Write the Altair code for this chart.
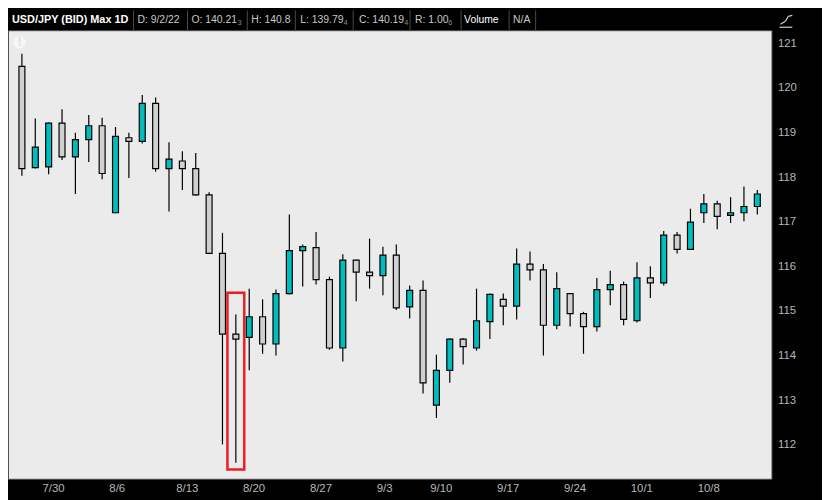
import altair as alt
import pandas as pd

# ---------------- data ----------------
opens = [120.48, 118.21, 118.23, 119.21, 118.45, 118.84, 119.15, 117.20, 118.88, 118.80,
         119.65, 118.19, 118.36, 118.19, 117.60, 116.29, 114.48, 114.41, 114.87, 114.26,
         115.39, 116.35, 116.42, 115.70, 114.17, 116.14, 115.87, 115.79, 116.25, 115.09,
         115.46, 112.89, 113.67, 114.37, 114.17, 114.76, 115.26, 115.11, 116.05, 115.92,
         114.68, 115.39, 114.94, 114.65, 115.48, 115.59, 114.78, 115.74, 115.63, 116.70,
         116.38, 117.20, 117.40, 117.14, 117.20, 117.34]
highs = [120.76, 119.31, 119.22, 119.52, 118.99, 119.39, 119.33, 119.12, 118.99, 119.84,
         119.78, 118.78, 118.58, 118.54, 117.66, 116.75, 114.92, 115.50, 115.26, 115.48,
         117.16, 116.49, 116.77, 115.77, 116.27, 116.15, 116.62, 116.44, 116.49, 115.57,
         115.68, 114.02, 114.39, 114.39, 115.50, 115.39, 115.39, 116.40, 116.33, 116.05,
         115.87, 115.40, 114.98, 115.74, 115.90, 115.66, 116.09, 116.00, 116.79, 116.77,
         117.29, 117.62, 117.47, 117.55, 117.79, 117.71]
lows = [118.03, 118.19, 118.06, 118.38, 117.62, 118.34, 117.95, 117.19, 117.98, 118.75,
        118.12, 117.23, 117.71, 117.58, 116.28, 112.01, 111.60, 113.67, 114.04, 114.00,
        115.37, 115.55, 115.59, 114.13, 113.87, 115.22, 115.50, 115.35, 115.02, 114.83,
        113.15, 112.60, 113.39, 113.80, 114.11, 114.37, 114.68, 114.81, 115.68, 114.00,
        114.59, 114.65, 114.04, 114.54, 115.13, 114.68, 114.74, 115.29, 115.57, 116.29,
        116.37, 116.97, 116.83, 116.97, 117.01, 117.16]
closes = [118.19, 118.67, 119.21, 118.45, 118.84, 119.15, 118.08, 118.91, 118.80, 119.65,
          118.19, 118.40, 118.19, 117.60, 116.29, 114.48, 114.37, 114.87, 114.26, 115.39,
          116.35, 116.44, 115.70, 114.17, 116.14, 115.87, 115.79, 116.25, 115.07, 115.46,
          113.39, 113.67, 114.37, 114.20, 114.78, 115.37, 115.11, 116.05, 115.92, 114.68,
          115.50, 114.94, 114.65, 115.48, 115.59, 114.81, 115.74, 115.63, 116.70, 116.38,
          116.99, 117.40, 117.12, 117.20, 117.34, 117.62]

week_labels = ["7/30", "8/6", "8/13", "8/20", "8/27", "9/3", "9/10", "9/17", "9/24", "10/1", "10/8"]
week_first_bar = [2, 7, 12, 17, 22, 27, 31, 36, 41, 46, 51]
price_ticks = [112, 113, 114, 115, 116, 117, 118, 119, 120, 121]

highlight_bar = 16
highlight_low = 111.45
highlight_high = 115.41

header_texts = ["USD/JPY (BID) Max 1D", "D: 9/2/22", "O: 140.21", "H: 140.8",
                "L: 139.79", "C: 140.19", "R: 1.00", "Volume", "N/A"]
header_subs = ["", "", "3", "", "4", "4", "6", "", ""]

# ---------------- layout / style ----------------
SX = 822 / 830.0
header_x = [4, 132, 187, 248, 298, 358, 415, 465, 515]
sub_x = [0, 0, 234, 0, 342, 404, 449, 0, 0]
divider_x = [128, 183, 244, 293, 352, 410, 462, 511, 538]
header_color = ["#ffffff", "#c8c8c8", "#c8c8c8", "#c8c8c8", "#c8c8c8",
                "#c8c8c8", "#c8c8c8", "#ffffff", "#c8c8c8"]
header_weight = ["bold", "normal", "normal", "normal", "normal",
                 "normal", "normal", "normal", "normal"]
header_size = [11, 10.5, 10.5, 10.5, 10.5, 10.5, 10.5, 10.5, 10.5]

FONT = "Liberation Sans, Arial, sans-serif"
TEAL = "#00bdbd"
GRAY = "#d0d0d0"
RED = "#ee1c24"

W, H = 771, 453

df = pd.DataFrame({"bar": list(range(len(opens))), "open": opens, "high": highs,
                   "low": lows, "close": closes})

tick_pos = [b - 0.5 for b in week_first_bar]
label_expr = ("[" + ",".join("'%s'" % l for l in week_labels) + "][indexof(["
              + ",".join(str(p) for p in tick_pos) + "], datum.value)]")

xscale = alt.Scale(domain=[-0.67, 55.69], nice=False, zero=False)
yscale = alt.Scale(domain=[111.24, 121.29], nice=False, zero=False)

xaxis = alt.Axis(orient="bottom", values=tick_pos, labelExpr=label_expr, ticks=False,
                 tickSize=0, domain=False, grid=False, labelAlign="left",
                 labelBaseline="middle", labelPadding=10, labelFlush=False,
                 labelOverlap=False, labelBound=False, labelColor="#b8b8b8",
                 labelFont=FONT, labelFontSize=11.5, title=None)
yaxis = alt.Axis(orient="right", values=price_ticks, ticks=False, tickSize=0, domain=False,
                 grid=False, labelPadding=6, labelColor="#b4b8bc", labelFont=FONT,
                 labelFontSize=11.5, labelOverlap=False, labelFlush=False, title=None)

base = alt.Chart(df)
wicks = base.mark_rule(color="black", strokeWidth=1.2).encode(
    x=alt.X("bar:Q", scale=xscale, axis=xaxis),
    y=alt.Y("low:Q", scale=yscale, axis=yaxis),
    y2="high:Q",
)
bodies = base.mark_bar(size=6, stroke="black", strokeWidth=1.2).encode(
    x="bar:Q",
    y="open:Q",
    y2="close:Q",
    fill=alt.condition("datum.close >= datum.open", alt.value(TEAL), alt.value(GRAY)),
)

hl_df = pd.DataFrame({"x1": [highlight_bar - 0.63], "x2": [highlight_bar + 0.63],
                      "y1": [highlight_low], "y2": [highlight_high]})
highlight = alt.Chart(hl_df).mark_rect(fillOpacity=0, stroke=RED, strokeWidth=2.5).encode(
    x="x1:Q", x2="x2:Q", y="y1:Q", y2="y2:Q")

one = alt.Data(values=[{}])
layers = [wicks, bodies, highlight]

# header dividers
for dx in divider_x:
    layers.append(alt.Chart(one).mark_rule(color="#4a4a4a", strokeWidth=1).encode(
        x=alt.value(dx * SX), y=alt.value(-20), y2=alt.value(0)))

# header texts
for t, hx, c, wgt, fs in zip(header_texts, header_x, header_color, header_weight, header_size):
    layers.append(alt.Chart(one).mark_text(
        align="left", baseline="middle", font=FONT, fontSize=fs, fontWeight=wgt,
        color=c).encode(x=alt.value(hx * SX), y=alt.value(-10), text=alt.value(t)))
for s, sx in zip(header_subs, sub_x):
    if s:
        layers.append(alt.Chart(one).mark_text(
            align="left", baseline="middle", font=FONT, fontSize=7.5,
            color="#8a8a8a").encode(x=alt.value(sx * SX), y=alt.value(-7),
                                    text=alt.value(s)))

# small chart-type icon at top right
icon_segs = [(779, -3, 792, -3), (780, -6, 785, -9), (785, -9, 788, -14), (788, -14, 792, -15)]
for x1, y1, x2, y2 in icon_segs:
    layers.append(alt.Chart(one).mark_rule(color="#d0d0d0", strokeWidth=1.2).encode(
        x=alt.value(x1), y=alt.value(y1), x2=alt.value(x2), y2=alt.value(y2)))

# faint info badge at top left of plot
layers.append(alt.Chart(one).mark_point(filled=True, shape="circle", size=154,
                                        color="#f6f6f6", opacity=1).encode(
    x=alt.value(11.5), y=alt.value(12.3)))
layers.append(alt.Chart(one).mark_text(font=FONT, fontSize=12, fontWeight="bold",
                                       color="#dedede", baseline="middle").encode(
    x=alt.value(11.5), y=alt.value(12.3), text=alt.value("!")))

chart = alt.layer(*layers).properties(
    width=W, height=H,
    padding={"left": 0, "top": 20, "right": 51, "bottom": 19},
    autosize=alt.AutoSizeParams(type="none"),
    background="#000000",
).configure_view(fill="#ebebeb", stroke="#4d4d4d", strokeWidth=1)

chart.save("out.html", embed_options={"renderer": "svg", "actions": False})
